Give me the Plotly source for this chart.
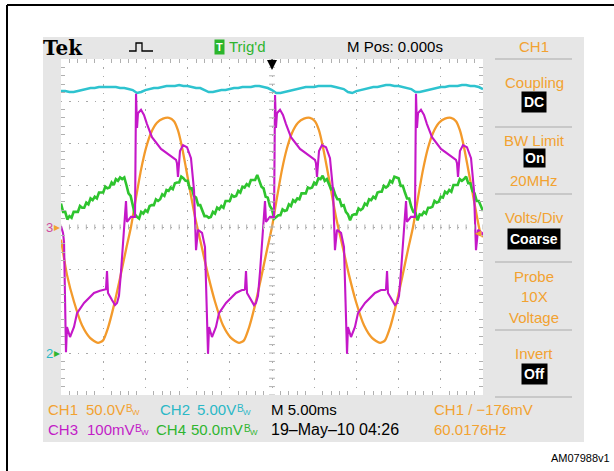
import plotly.graph_objects as go

W, H = 614, 471

# ---------------- acquisition settings ----------------
ch1_vdiv, ch2_vdiv, ch3_vdiv, ch4_vdiv = 50.0, 5.0, 100.0, 50.0   # V, V, mV, mV per division
ch1_pos, ch2_pos, ch3_pos, ch4_pos = 0.0, -3.0, 0.0, -3.0          # ground reference (divisions)
time_range = [-25.0, 25.0]                                         # ms, 5 ms/div

# ---------------- CH1 (V) ----------------
ch1_t = [-25.00, -24.29, -23.46, -22.51, -21.56, -20.62, -20.02, -19.43, -18.72, -18.01,
         -17.30, -16.71, -16.11, -15.52, -14.93, -14.34, -13.63, -12.91, -12.20, -11.61,
         -11.14, -10.66, -10.19, -9.72, -9.12, -8.41, -7.58, -6.75, -5.81, -4.86,
         -3.91, -3.32, -2.73, -2.01, -1.30, -0.59, 0.00, 0.59, 1.18, 1.78,
         2.37, 3.08, 3.79, 4.50, 5.09, 5.57, 6.04, 6.52, 6.99, 7.58,
         8.29, 9.12, 9.95, 10.90, 11.85, 12.80, 13.39, 13.98, 14.69, 15.40,
         16.11, 16.71, 17.30, 17.89, 18.48, 19.08, 19.79, 20.50, 21.21, 21.80,
         22.27, 22.75, 23.22, 23.70, 24.29, 24.64, 25.00]
ch1_v = [-15, -57, -89, -117, -132, -138, -135, -120, -93, -61,
         -27, 0, 35, 68, 94, 112, 124, 129, 130, 126,
         115, 95, 70, 44, 12, -20, -57, -89, -117, -132,
         -138, -135, -120, -93, -61, -27, 0, 35, 68, 94,
         112, 124, 129, 130, 126, 115, 95, 70, 44, 12,
         -20, -57, -89, -117, -132, -138, -135, -120, -93, -61,
         -27, 0, 35, 68, 94, 112, 124, 129, 130, 126,
         115, 95, 70, 44, 12, -5, -12]

# ---------------- CH2 (V), one sample every 0.5 ms ----------------
ch2_t0, ch2_dt = -25.0, 0.5
ch2_v = [31.18, 31.18, 31.07, 31.07, 31.18, 31.30, 31.42, 31.54, 31.54, 31.66,
         31.66, 31.66, 31.66, 31.66, 31.54, 31.54, 31.42, 31.30, 30.95, 31.07,
         31.30, 31.42, 31.54, 31.54, 31.66, 31.78, 31.78, 31.78, 31.90, 31.78,
         31.78, 31.66, 31.54, 31.54, 31.30, 31.07, 31.07, 31.18, 31.30, 31.30,
         31.42, 31.54, 31.54, 31.66, 31.66, 31.66, 31.78, 31.78, 31.66, 31.54,
         31.30, 30.95, 30.95, 31.07, 31.18, 31.30, 31.42, 31.54, 31.66, 31.66,
         31.66, 31.78, 31.78, 31.78, 31.78, 31.66, 31.54, 31.42, 31.07, 30.95,
         31.18, 31.30, 31.42, 31.54, 31.66, 31.66, 31.78, 31.90, 31.90, 31.78,
         31.78, 31.66, 31.54, 31.42, 31.07, 31.07, 31.18, 31.30, 31.42, 31.54,
         31.66, 31.66, 31.78, 31.78, 31.78, 31.90, 31.90, 31.78, 31.78, 31.66,
         31.42]

# ---------------- CH3 (mV) ----------------
ch3_t = [-25.00, -24.76, -24.64, -24.53, -24.41, -24.29, -23.93, -23.46, -23.10, -22.27,
         -21.09, -20.38,
         -19.79, -19.67, -19.55, -19.43, -18.96, -18.60, -18.36, -18.13, -17.89, -17.65,
         -17.54, -17.30, -17.18, -16.71, -16.23, -16.11, -15.99, -15.88, -15.52, -15.17,
         -14.81, -14.22, -13.15, -11.97, -11.37, -11.26, -11.14, -10.90, -10.54, -10.07,
         -9.60, -9.24, -9.12, -9.00, -8.77, -8.29, -7.94, -7.82, -7.70, -7.58,
         -7.46, -7.11, -6.64, -6.28, -5.45, -4.27, -3.55,
         -3.32, -3.20, -3.08, -2.96, -2.49, -2.13, -1.90, -1.66, -1.42, -1.18,
         -1.07, -0.83, -0.71, -0.24, 0.24, 0.36, 0.47, 0.59, 0.95, 1.30,
         1.66, 2.25, 3.32, 4.50, 5.09, 5.21, 5.33, 5.57, 5.92, 6.40,
         6.87, 7.23, 7.35, 7.46, 7.70, 8.18, 8.53, 8.65, 8.77, 8.89,
         9.00, 9.36, 9.83, 10.19, 11.02, 12.20, 12.91,
         13.39, 13.51, 13.63, 13.74, 14.22, 14.57, 14.81, 15.05, 15.28, 15.52,
         15.64, 15.88, 15.99, 16.47, 16.94, 17.06, 17.18, 17.30, 17.65, 18.01,
         18.36, 18.96, 20.02, 21.21, 21.80, 21.92, 22.04, 22.27, 22.63, 23.10,
         23.58, 23.93, 24.05, 24.17, 24.41, 24.88, 25.00]
ch3_mv = [2, -14, -36, -174, -298, -238, -262, -238, -205, -181,
          -157, -152,
          -150, -148, -105, -157, -174, -186, -181, -164, -107, -31,
          12, 62, 12, 24, 24, 317, 236, 271, 279, 267,
          245, 214, 186, 169, 160, 152, 119, 181, 195, 190,
          164, 88, 5, -55, -7, -14, -48, -150, -257, -302,
          -238, -262, -238, -205, -181, -157, -150,
          -150, -148, -105, -157, -174, -186, -181, -164, -107, -31,
          12, 62, 12, 24, 24, 314, 236, 271, 279, 267,
          245, 214, 186, 169, 160, 152, 119, 181, 195, 190,
          164, 88, 5, -55, -7, -14, -48, -150, -257, -302,
          -238, -262, -238, -205, -181, -157, -150,
          -150, -148, -105, -157, -174, -186, -181, -164, -107, -31,
          12, 62, 12, 24, 24, 317, 236, 271, 279, 267,
          245, 214, 186, 169, 160, 152, 119, 181, 195, 190,
          164, 88, 5, -55, -7, -14, -21]

# ---------------- CH4 (mV), one sample every 0.25 ms ----------------
ch4_t0, ch4_dt = -25.0, 0.25
ch4_mv = [178, 168, 168, 159, 163, 161, 168, 168, 168, 175,
          173, 173, 179, 177, 184, 182, 186, 184, 191, 191,
          191, 198, 196, 197, 203, 200, 207, 205, 209, 207,
          209, 200, 190, 187, 174, 165, 162, 160, 168, 166,
          170, 168, 175, 176, 176, 183, 181, 183, 189, 187,
          194, 193, 197, 195, 202, 203, 203, 210, 208, 205,
          205, 196, 196, 187, 185, 176, 176, 170, 163, 163,
          161, 162, 168, 166, 173, 171, 175, 173, 181, 181,
          181, 188, 186, 187, 193, 191, 198, 197, 201, 199,
          206, 206, 206, 212, 205, 198, 196, 186, 185, 175,
          171, 160, 162, 164, 164, 171, 169, 170, 177, 175,
          182, 180, 184, 183, 190, 190, 190, 197, 196, 197,
          203, 201, 208, 207, 211, 205, 207, 201, 195, 196,
          188, 183, 183, 175, 176, 168, 165, 158, 164, 165,
          165, 172, 170, 172, 178, 176, 183, 182, 186, 184,
          191, 192, 192, 199, 197, 199, 205, 203, 210, 209,
          208, 199, 199, 191, 184, 184, 174, 168, 167, 158,
          165, 164, 168, 166, 173, 173, 174, 181, 179, 180,
          186, 185, 192, 190, 194, 192, 200, 200, 200, 207,
          205, 207, 210, 202, 202, 193, 190, 181, 181, 175,
          169]

# ---------------- colours ----------------
C_ORANGE = "#f39a2b"
C_CYAN = "#2ec3cf"
C_MAGENTA = "#c417c8"
C_GREEN = "#2ec42e"
T_ORANGE = "#f2a231"
T_CYAN = "#2bb8c6"
T_MAGENTA = "#c21cc6"
T_GREEN = "#2fb52f"
PANEL = "#e6e6e6"
SANS = "Liberation Sans, Arial, sans-serif"


def px(x):
    return x / W


def py(y):
    return 1 - y / H


def to_div(values, scale, pos):
    return [v / scale + pos for v in values]


fig = go.Figure()

fig.add_trace(go.Scatter(x=ch1_t, y=to_div(ch1_v, ch1_vdiv, ch1_pos), mode="lines",
                         line=dict(color=C_ORANGE, width=2.3, shape="spline", smoothing=0.6)))
fig.add_trace(go.Scatter(x0=ch2_t0, dx=ch2_dt, y=to_div(ch2_v, ch2_vdiv, ch2_pos), mode="lines",
                         line=dict(color=C_CYAN, width=2.5)))
fig.add_trace(go.Scatter(x0=ch4_t0, dx=ch4_dt, y=to_div(ch4_mv, ch4_vdiv, ch4_pos), mode="lines",
                         line=dict(color=C_GREEN, width=2.6)))
fig.add_trace(go.Scatter(x=ch3_t, y=to_div(ch3_mv, ch3_vdiv, ch3_pos), mode="lines",
                         line=dict(color=C_MAGENTA, width=2.1)))

x_dom = [px(61), px(483)]
y_dom = [py(395), py(59)]

fig.update_layout(
    width=W, height=H, margin=dict(l=0, r=0, t=0, b=0),
    paper_bgcolor="white", plot_bgcolor="white", showlegend=False,
    xaxis=dict(domain=x_dom, range=time_range, dtick=5, showticklabels=False,
               showgrid=True, gridcolor="#a8a8a8", gridwidth=1.3, griddash="1.3px,7.1px",
               zeroline=False, showline=False, ticks="inside", ticklen=0,
               minor=dict(dtick=1, ticks="inside", ticklen=4, tickcolor="#b0b0b0", showgrid=False),
               mirror="allticks", fixedrange=True),
    yaxis=dict(domain=y_dom, range=[-4, 4], dtick=1, showticklabels=False,
               showgrid=True, gridcolor="#a8a8a8", gridwidth=1.3, griddash="1.3px,7.14px",
               zeroline=False, showline=False, ticks="inside", ticklen=0,
               minor=dict(dtick=0.2, ticks="inside", ticklen=4, tickcolor="#b0b0b0", showgrid=False),
               mirror="allticks", fixedrange=True),
)

shapes = []
# instrument screen
shapes.append(dict(type="rect", xref="paper", yref="paper", x0=px(43), x1=px(584), y0=py(442), y1=py(37),
                   fillcolor=PANEL, line=dict(width=0), layer="below"))
shapes.append(dict(type="rect", xref="paper", yref="paper", x0=px(61), x1=px(483), y0=py(395), y1=py(59),
                   fillcolor="white", line=dict(width=0), layer="below"))
# outer frame
shapes.append(dict(type="line", xref="paper", yref="paper", x0=px(7), x1=1, y0=py(5), y1=py(5),
                   line=dict(color="black", width=2)))
shapes.append(dict(type="line", xref="paper", yref="paper", x0=px(7), x1=px(7), y0=0, y1=py(5),
                   line=dict(color="black", width=2)))
# side menu separators
for yy in [59, 127, 194, 262, 330, 397]:
    shapes.append(dict(type="line", xref="paper", yref="paper", x0=px(495), x1=px(572), y0=py(yy), y1=py(yy),
                       line=dict(color="#a9a9a9", width=1.2)))
# acquisition icon
icon = [(129, 51), (136, 51), (136, 43), (142, 43), (142, 51), (153, 51)]
path = "M " + " L ".join(f"{px(a):.5f},{py(b):.5f}" for a, b in icon)
shapes.append(dict(type="path", xref="paper", yref="paper", path=path, line=dict(color="black", width=1.3)))
# center cross minor ticks
for k in range(-20, 21):
    yv = k * 0.2
    shapes.append(dict(type="line", xref="x", yref="y", x0=-0.35, x1=0.35, y0=yv, y1=yv,
                       line=dict(color="#b0b0b0", width=1)))
for k in range(-25, 26):
    xv = k * 1.0
    shapes.append(dict(type="line", xref="x", yref="y", x0=xv, x1=xv, y0=-0.06, y1=0.06,
                       line=dict(color="#b0b0b0", width=1)))
fig.update_layout(shapes=shapes)

ann = []


def label(x, y, text, color="black", size=15, xanchor="left", family=SANS, **kw):
    ann.append(dict(x=px(x), y=py(y), xref="paper", yref="paper", text=text, showarrow=False,
                    xanchor=xanchor, yanchor="middle", font=dict(color=color, size=size, family=family), **kw))


def bw_mark(x, y, color):
    # bandwidth-limit glyph: a small "B" with a lowered "W"
    label(x, y - 1, "B", color=color, size=10)
    label(x + 6, y + 3, "W", color=color, size=8)


# top status line
label(41, 48, "<b>Tek</b>", size=20, family="DejaVu Serif, Liberation Serif, serif")
label(219, 47, "<b>T</b>", color="white", size=11, xanchor="center", bgcolor="#2bb52b", borderpad=1)
label(227, 47, "Trig'd", color=T_GREEN)
label(345, 47, "M Pos: 0.000s")
label(534, 47, "CH1", color=T_ORANGE, xanchor="center")

# side menu
label(534, 83, "Coupling", color=T_ORANGE, xanchor="center")
label(534, 102, "<b>DC</b>", color="white", size=14, xanchor="center", bgcolor="black", borderpad=2)
label(534, 141, "BW Limit", color=T_ORANGE, xanchor="center")
label(534, 158, "<b>On</b>", color="white", size=14, xanchor="center", bgcolor="black", borderpad=1)
label(534, 180, "20MHz", color=T_ORANGE, xanchor="center")
label(534, 217, "Volts/Div", color=T_ORANGE, xanchor="center")
label(534, 239, "<b>Coarse</b>", color="white", size=14, xanchor="center", bgcolor="black", borderpad=2)
label(534, 276, "Probe", color=T_ORANGE, xanchor="center")
label(534, 296, "10X", color=T_ORANGE, xanchor="center")
label(534, 317, "Voltage", color=T_ORANGE, xanchor="center")
label(534, 353, "Invert", color=T_ORANGE, xanchor="center")
label(534, 374, "<b>Off</b>", color="white", size=14, xanchor="center", bgcolor="black", borderpad=2)

# bottom readouts
label(46, 409, "CH1", color=T_ORANGE)
label(84, 409, "50.0V", color=T_ORANGE)
bw_mark(124, 409, T_ORANGE)
label(158, 409, "CH2", color=T_CYAN)
label(195, 409, "5.00V", color=T_CYAN)
bw_mark(235, 409, T_CYAN)
label(269, 409, "M 5.00ms")
label(432, 409, "CH1 / \u2212176mV", color=T_ORANGE)
label(46, 429, "CH3", color=T_MAGENTA)
label(85, 429, "100mV", color=T_MAGENTA)
bw_mark(133, 429, T_MAGENTA)
label(154, 429, "CH4", color=T_GREEN)
label(189, 429, "50.0mV", color=T_GREEN)
bw_mark(242, 429, T_GREEN)
label(269, 429, "19\u2013May\u201310 04:26", size=16)
label(432, 429, "60.0176Hz", color=T_ORANGE)

# channel reference markers
label(44, 227, "3", color="#d04aa0", size=13)
label(52, 227, "\u25b8", color=T_ORANGE, size=12)
label(44, 353, "2", color=T_CYAN, size=13)
label(52, 353, "\u25b8", color=T_GREEN, size=12)
label(484, 232, "\u25c2", color=T_ORANGE, size=13, xanchor="right")

# trigger position
ann.append(dict(x=px(272), y=py(70), xref="paper", yref="paper", ax=0, ay=-12,
                text="", showarrow=True, arrowhead=2, arrowsize=1, arrowwidth=2, arrowcolor="black"))

label(612, 458, "AM07988v1", size=11, xanchor="right")

fig.update_layout(annotations=ann)
fig.write_html("out.html")
